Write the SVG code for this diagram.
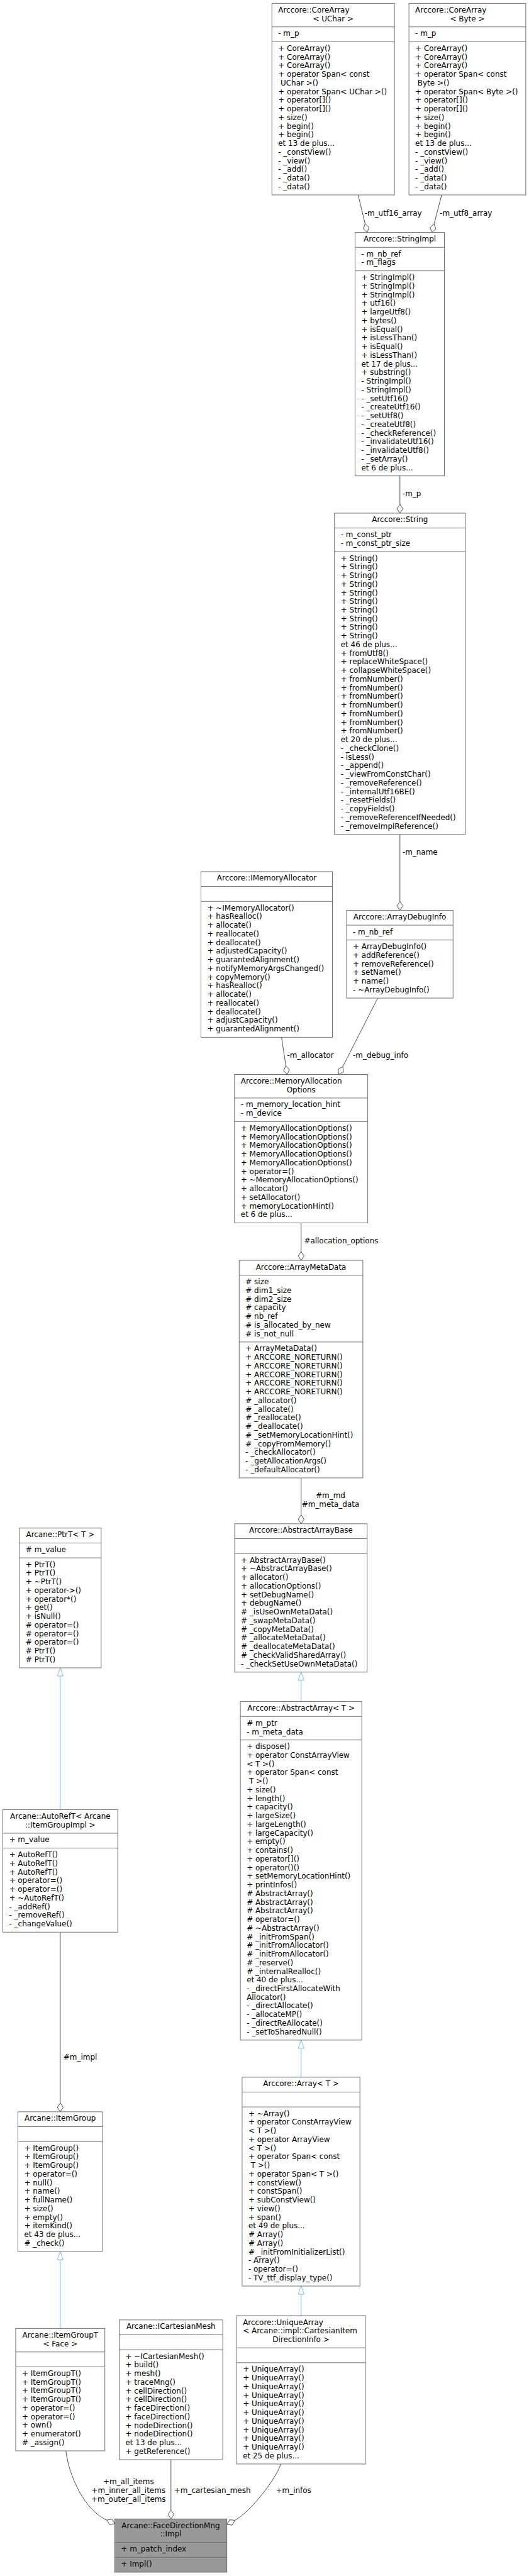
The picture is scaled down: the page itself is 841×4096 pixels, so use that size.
<svg xmlns="http://www.w3.org/2000/svg" width="841" height="4096" viewBox="0 0 841 4096">
<style>
text{font-family:"DejaVu Sans","Liberation Sans",sans-serif;font-size:12.8px;fill:#000}
.m{text-anchor:middle}
.b{fill:#fff;stroke:#666;stroke-width:1}
.r{fill:#999;stroke:#666;stroke-width:1}
.s{stroke:#666;stroke-width:1}
.e{fill:none;stroke:#404040;stroke-width:1}
.d{fill:#fff;stroke:#404040;stroke-width:1}
.i{fill:none;stroke:#63b8ff;stroke-width:1}
.t{fill:#fff;stroke:#63b8ff;stroke-width:1}
</style>
<rect width="841" height="4096" fill="#fff"/>
<g transform="scale(0.935)">

<g id="connectors">
<path class="e" d="M609,331.5 L620.8,380.7"/>
<polygon class="d" points="624.3,395.3 627.4,386.8 620.8,380.7 617.7,389.2"/>
<text x="620" y="367">-m_utf16_array</text>
<path class="e" d="M751,331.5 L738.1,380.8"/>
<polygon class="d" points="734.3,395.3 741,389.3 738.1,380.8 731.4,386.8"/>
<text x="747.7" y="367">-m_utf8_array</text>
<path class="e" d="M680,809.3 V857.7"/>
<polygon class="d" points="680,872.7 685,865.2 680,857.7 675,865.2"/>
<text x="684.3" y="844">-m_p</text>
<path class="e" d="M680,1419 V1533"/>
<polygon class="d" points="680,1548 685,1540.5 680,1533 675,1540.5"/>
<text x="684.3" y="1453">-m_name</text>
<path class="e" d="M478.7,1764 L486.05,1812.5"/>
<polygon class="d" points="488.3,1827.3 492.1,1819.1 486.05,1812.5 482.2,1820.6"/>
<text x="488.3" y="1799">-m_allocator</text>
<path class="e" d="M642.3,1697.4 L582.8,1813.9"/>
<polygon class="d" points="576,1827.3 583.9,1822.9 582.8,1813.9 574.95,1818.3"/>
<text x="600" y="1799">-m_debug_info</text>
<path class="e" d="M512,2079.6 V2128.4"/>
<polygon class="d" points="512,2143.4 517,2135.9 512,2128.4 507,2135.9"/>
<text x="517" y="2114.5">#allocation_options</text>
<path class="e" d="M512,2513.3 V2576.3"/>
<polygon class="d" points="512,2591.3 517,2583.8 512,2576.3 507,2583.8"/>
<text class="m" x="562" y="2547.5">#m_md</text>
<text class="m" x="562" y="2562.2">#m_meta_data</text>
<path class="i" d="M512,2893.7 V2857.6"/>
<polygon class="t" points="512,2843.6 517,2857.6 507,2857.6"/>
<path class="i" d="M512,3532.5 V3483.4"/>
<polygon class="t" points="512,3469.4 517,3483.4 507,3483.4"/>
<path class="i" d="M512,3938 V3901.7"/>
<polygon class="t" points="512,3887.7 517,3901.7 507,3901.7"/>
<path class="i" d="M102.5,3077.6 V2850.3"/>
<polygon class="t" points="102.5,2836.3 107.5,2850.3 97.5,2850.3"/>
<path class="e" d="M102.5,3285.8 V3576.3"/>
<polygon class="d" points="102.5,3591.3 107.5,3583.8 102.5,3576.3 97.5,3583.8"/>
<text x="107.8" y="3503">#m_impl</text>
<path class="i" d="M102.5,3959.7 V3842.9"/>
<polygon class="t" points="102.5,3828.9 107.5,3842.9 97.5,3842.9"/>
<path class="e" d="M290.7,4182.9 V4268.7"/>
<polygon class="d" points="290.7,4283.7 295.7,4276.2 290.7,4268.7 285.7,4276.2"/>
<text x="296" y="4239.8">+m_cartesian_mesh</text>
<path class="e" d="M112,4167.9 C118,4215 145.7,4269.7 181.7,4285.7"/>
<polygon class="d" points="195,4291.7 186.3,4293.3 181.7,4285.7 190.4,4284.1"/>
<text class="m" x="218.5" y="4224.8">+m_all_items</text>
<text class="m" x="218.5" y="4239.5">+m_inner_all_items</text>
<text class="m" x="218.5" y="4254.2">+m_outer_all_items</text>
<path class="e" d="M477.3,4190.3 C470,4215 425.8,4271.6 399.5,4286"/>
<polygon class="d" points="385.7,4293.3 394.9,4294.1 399.5,4286 390.3,4285.2"/>
<text x="469" y="4239.8">+m_infos</text>
</g>

<g id="coreArrayUChar">
<rect class="b" x="462.3" y="5.7" width="208.4" height="325.8"/>
<line class="s" x1="462.3" y1="45.7" x2="670.7" y2="45.7"/>
<line class="s" x1="462.3" y1="71" x2="670.7" y2="71"/>
<text x="473" y="21.8">Arccore::CoreArray</text>
<text class="m" x="566.5" y="36.5">&lt; UChar &gt;</text>
<text x="473" y="61.2">- m_p</text>
<text x="473" y="86.5"><tspan x="473">+ CoreArray()</tspan><tspan x="473" dy="14.7">+ CoreArray()</tspan><tspan x="473" dy="14.7">+ CoreArray()</tspan><tspan x="473" dy="14.7">+ operator Span&lt; const</tspan><tspan x="477" dy="14.7">UChar &gt;()</tspan><tspan x="473" dy="14.7">+ operator Span&lt; UChar &gt;()</tspan><tspan x="473" dy="14.7">+ operator[]()</tspan><tspan x="473" dy="14.7">+ operator[]()</tspan><tspan x="473" dy="14.7">+ size()</tspan><tspan x="473" dy="14.7">+ begin()</tspan><tspan x="473" dy="14.7">+ begin()</tspan><tspan x="473" dy="14.7">et 13 de plus...</tspan><tspan x="473" dy="14.7">- _constView()</tspan><tspan x="473" dy="14.7">- _view()</tspan><tspan x="473" dy="14.7">- _add()</tspan><tspan x="473" dy="14.7">- _data()</tspan><tspan x="473" dy="14.7">- _data()</tspan></text>
</g>

<g id="coreArrayByte">
<rect class="b" x="695.3" y="5.7" width="198.7" height="325.8"/>
<line class="s" x1="695.3" y1="45.7" x2="894" y2="45.7"/>
<line class="s" x1="695.3" y1="71" x2="894" y2="71"/>
<text x="706" y="21.8">Arccore::CoreArray</text>
<text class="m" x="794.6" y="36.5">&lt; Byte &gt;</text>
<text x="706" y="61.2">- m_p</text>
<text x="706" y="86.5"><tspan x="706">+ CoreArray()</tspan><tspan x="706" dy="14.7">+ CoreArray()</tspan><tspan x="706" dy="14.7">+ CoreArray()</tspan><tspan x="706" dy="14.7">+ operator Span&lt; const</tspan><tspan x="710" dy="14.7">Byte &gt;()</tspan><tspan x="706" dy="14.7">+ operator Span&lt; Byte &gt;()</tspan><tspan x="706" dy="14.7">+ operator[]()</tspan><tspan x="706" dy="14.7">+ operator[]()</tspan><tspan x="706" dy="14.7">+ size()</tspan><tspan x="706" dy="14.7">+ begin()</tspan><tspan x="706" dy="14.7">+ begin()</tspan><tspan x="706" dy="14.7">et 13 de plus...</tspan><tspan x="706" dy="14.7">- _constView()</tspan><tspan x="706" dy="14.7">- _view()</tspan><tspan x="706" dy="14.7">- _add()</tspan><tspan x="706" dy="14.7">- _data()</tspan><tspan x="706" dy="14.7">- _data()</tspan></text>
</g>

<g id="stringImpl">
<rect class="b" x="603.7" y="395.3" width="152" height="414"/>
<line class="s" x1="603.7" y1="420.6" x2="755.7" y2="420.6"/>
<line class="s" x1="603.7" y1="460.6" x2="755.7" y2="460.6"/>
<text class="m" x="679.7" y="410.8">Arccore::StringImpl</text>
<text x="614.4" y="436.1"><tspan x="614.4">- m_nb_ref</tspan><tspan x="614.4" dy="14.7">- m_flags</tspan></text>
<text x="614.4" y="476.1"><tspan x="614.4">+ StringImpl()</tspan><tspan x="614.4" dy="14.7">+ StringImpl()</tspan><tspan x="614.4" dy="14.7">+ StringImpl()</tspan><tspan x="614.4" dy="14.7">+ utf16()</tspan><tspan x="614.4" dy="14.7">+ largeUtf8()</tspan><tspan x="614.4" dy="14.7">+ bytes()</tspan><tspan x="614.4" dy="14.7">+ isEqual()</tspan><tspan x="614.4" dy="14.7">+ isLessThan()</tspan><tspan x="614.4" dy="14.7">+ isEqual()</tspan><tspan x="614.4" dy="14.7">+ isLessThan()</tspan><tspan x="614.4" dy="14.7">et 17 de plus...</tspan><tspan x="614.4" dy="14.7">+ substring()</tspan><tspan x="614.4" dy="14.7">- StringImpl()</tspan><tspan x="614.4" dy="14.7">- StringImpl()</tspan><tspan x="614.4" dy="14.7">- _setUtf16()</tspan><tspan x="614.4" dy="14.7">- _createUtf16()</tspan><tspan x="614.4" dy="14.7">- _setUtf8()</tspan><tspan x="614.4" dy="14.7">- _createUtf8()</tspan><tspan x="614.4" dy="14.7">- _checkReference()</tspan><tspan x="614.4" dy="14.7">- _invalidateUtf16()</tspan><tspan x="614.4" dy="14.7">- _invalidateUtf8()</tspan><tspan x="614.4" dy="14.7">- _setArray()</tspan><tspan x="614.4" dy="14.7">et 6 de plus...</tspan></text>
</g>

<g id="string">
<rect class="b" x="568.7" y="872.7" width="222.6" height="546.3"/>
<line class="s" x1="568.7" y1="898" x2="791.3" y2="898"/>
<line class="s" x1="568.7" y1="938" x2="791.3" y2="938"/>
<text class="m" x="680" y="888.2">Arccore::String</text>
<text x="579.4" y="913.5"><tspan x="579.4">- m_const_ptr</tspan><tspan x="579.4" dy="14.7">- m_const_ptr_size</tspan></text>
<text x="579.4" y="953.5"><tspan x="579.4">+ String()</tspan><tspan x="579.4" dy="14.7">+ String()</tspan><tspan x="579.4" dy="14.7">+ String()</tspan><tspan x="579.4" dy="14.7">+ String()</tspan><tspan x="579.4" dy="14.7">+ String()</tspan><tspan x="579.4" dy="14.7">+ String()</tspan><tspan x="579.4" dy="14.7">+ String()</tspan><tspan x="579.4" dy="14.7">+ String()</tspan><tspan x="579.4" dy="14.7">+ String()</tspan><tspan x="579.4" dy="14.7">+ String()</tspan><tspan x="579.4" dy="14.7">et 46 de plus...</tspan><tspan x="579.4" dy="14.7">+ fromUtf8()</tspan><tspan x="579.4" dy="14.7">+ replaceWhiteSpace()</tspan><tspan x="579.4" dy="14.7">+ collapseWhiteSpace()</tspan><tspan x="579.4" dy="14.7">+ fromNumber()</tspan><tspan x="579.4" dy="14.7">+ fromNumber()</tspan><tspan x="579.4" dy="14.7">+ fromNumber()</tspan><tspan x="579.4" dy="14.7">+ fromNumber()</tspan><tspan x="579.4" dy="14.7">+ fromNumber()</tspan><tspan x="579.4" dy="14.7">+ fromNumber()</tspan><tspan x="579.4" dy="14.7">+ fromNumber()</tspan><tspan x="579.4" dy="14.7">et 20 de plus...</tspan><tspan x="579.4" dy="14.7">- _checkClone()</tspan><tspan x="579.4" dy="14.7">- isLess()</tspan><tspan x="579.4" dy="14.7">- _append()</tspan><tspan x="579.4" dy="14.7">- _viewFromConstChar()</tspan><tspan x="579.4" dy="14.7">- _removeReference()</tspan><tspan x="579.4" dy="14.7">- _internalUtf16BE()</tspan><tspan x="579.4" dy="14.7">- _resetFields()</tspan><tspan x="579.4" dy="14.7">- _copyFields()</tspan><tspan x="579.4" dy="14.7">- _removeReferenceIfNeeded()</tspan><tspan x="579.4" dy="14.7">- _removeImplReference()</tspan></text>
</g>

<g id="arrayDebugInfo">
<rect class="b" x="589.3" y="1548" width="181" height="149.4"/>
<line class="s" x1="589.3" y1="1573.3" x2="770.3" y2="1573.3"/>
<line class="s" x1="589.3" y1="1598.6" x2="770.3" y2="1598.6"/>
<text class="m" x="679.8" y="1563.5">Arccore::ArrayDebugInfo</text>
<text x="600" y="1588.8">- m_nb_ref</text>
<text x="600" y="1614.1"><tspan x="600">+ ArrayDebugInfo()</tspan><tspan x="600" dy="14.7">+ addReference()</tspan><tspan x="600" dy="14.7">+ removeReference()</tspan><tspan x="600" dy="14.7">+ setName()</tspan><tspan x="600" dy="14.7">+ name()</tspan><tspan x="600" dy="14.7">- ~ArrayDebugInfo()</tspan></text>
</g>

<g id="iMemoryAllocator">
<rect class="b" x="341.7" y="1482.3" width="223.6" height="281.7"/>
<line class="s" x1="341.7" y1="1507.6" x2="565.3" y2="1507.6"/>
<line class="s" x1="341.7" y1="1532.9" x2="565.3" y2="1532.9"/>
<text class="m" x="453.5" y="1497.8">Arccore::IMemoryAllocator</text>
<text x="352.4" y="1548.4"><tspan x="352.4">+ ~IMemoryAllocator()</tspan><tspan x="352.4" dy="14.7">+ hasRealloc()</tspan><tspan x="352.4" dy="14.7">+ allocate()</tspan><tspan x="352.4" dy="14.7">+ reallocate()</tspan><tspan x="352.4" dy="14.7">+ deallocate()</tspan><tspan x="352.4" dy="14.7">+ adjustedCapacity()</tspan><tspan x="352.4" dy="14.7">+ guarantedAlignment()</tspan><tspan x="352.4" dy="14.7">+ notifyMemoryArgsChanged()</tspan><tspan x="352.4" dy="14.7">+ copyMemory()</tspan><tspan x="352.4" dy="14.7">+ hasRealloc()</tspan><tspan x="352.4" dy="14.7">+ allocate()</tspan><tspan x="352.4" dy="14.7">+ reallocate()</tspan><tspan x="352.4" dy="14.7">+ deallocate()</tspan><tspan x="352.4" dy="14.7">+ adjustCapacity()</tspan><tspan x="352.4" dy="14.7">+ guarantedAlignment()</tspan></text>
</g>

<g id="memoryAllocationOptions">
<rect class="b" x="398.7" y="1827.3" width="226.6" height="252.3"/>
<line class="s" x1="398.7" y1="1867.3" x2="625.3" y2="1867.3"/>
<line class="s" x1="398.7" y1="1907.3" x2="625.3" y2="1907.3"/>
<text x="409.4" y="1842.8">Arccore::MemoryAllocation</text>
<text class="m" x="512" y="1857.5">Options</text>
<text x="409.4" y="1882.8"><tspan x="409.4">- m_memory_location_hint</tspan><tspan x="409.4" dy="14.7">- m_device</tspan></text>
<text x="409.4" y="1922.8"><tspan x="409.4">+ MemoryAllocationOptions()</tspan><tspan x="409.4" dy="14.7">+ MemoryAllocationOptions()</tspan><tspan x="409.4" dy="14.7">+ MemoryAllocationOptions()</tspan><tspan x="409.4" dy="14.7">+ MemoryAllocationOptions()</tspan><tspan x="409.4" dy="14.7">+ MemoryAllocationOptions()</tspan><tspan x="409.4" dy="14.7">+ operator=()</tspan><tspan x="409.4" dy="14.7">+ ~MemoryAllocationOptions()</tspan><tspan x="409.4" dy="14.7">+ allocator()</tspan><tspan x="409.4" dy="14.7">+ setAllocator()</tspan><tspan x="409.4" dy="14.7">+ memoryLocationHint()</tspan><tspan x="409.4" dy="14.7">et 6 de plus...</tspan></text>
</g>

<g id="arrayMetaData">
<rect class="b" x="406.7" y="2143.4" width="210.3" height="369.9"/>
<line class="s" x1="406.7" y1="2168.7" x2="617" y2="2168.7"/>
<line class="s" x1="406.7" y1="2282.2" x2="617" y2="2282.2"/>
<text class="m" x="511.85" y="2158.9">Arccore::ArrayMetaData</text>
<text x="417.4" y="2184.2"><tspan x="417.4"># size</tspan><tspan x="417.4" dy="14.7"># dim1_size</tspan><tspan x="417.4" dy="14.7"># dim2_size</tspan><tspan x="417.4" dy="14.7"># capacity</tspan><tspan x="417.4" dy="14.7"># nb_ref</tspan><tspan x="417.4" dy="14.7"># is_allocated_by_new</tspan><tspan x="417.4" dy="14.7"># is_not_null</tspan></text>
<text x="417.4" y="2297.7"><tspan x="417.4">+ ArrayMetaData()</tspan><tspan x="417.4" dy="14.7">+ ARCCORE_NORETURN()</tspan><tspan x="417.4" dy="14.7">+ ARCCORE_NORETURN()</tspan><tspan x="417.4" dy="14.7">+ ARCCORE_NORETURN()</tspan><tspan x="417.4" dy="14.7">+ ARCCORE_NORETURN()</tspan><tspan x="417.4" dy="14.7">+ ARCCORE_NORETURN()</tspan><tspan x="417.4" dy="14.7"># _allocator()</tspan><tspan x="417.4" dy="14.7"># _allocate()</tspan><tspan x="417.4" dy="14.7"># _reallocate()</tspan><tspan x="417.4" dy="14.7"># _deallocate()</tspan><tspan x="417.4" dy="14.7"># _setMemoryLocationHint()</tspan><tspan x="417.4" dy="14.7"># _copyFromMemory()</tspan><tspan x="417.4" dy="14.7">- _checkAllocator()</tspan><tspan x="417.4" dy="14.7">- _getAllocationArgs()</tspan><tspan x="417.4" dy="14.7">- _defaultAllocator()</tspan></text>
</g>

<g id="abstractArrayBase">
<rect class="b" x="399" y="2591.3" width="225.3" height="252.3"/>
<line class="s" x1="399" y1="2616.6" x2="624.3" y2="2616.6"/>
<line class="s" x1="399" y1="2641.9" x2="624.3" y2="2641.9"/>
<text class="m" x="511.65" y="2606.8">Arccore::AbstractArrayBase</text>
<text x="409.7" y="2657.4"><tspan x="409.7">+ AbstractArrayBase()</tspan><tspan x="409.7" dy="14.7">+ ~AbstractArrayBase()</tspan><tspan x="409.7" dy="14.7">+ allocator()</tspan><tspan x="409.7" dy="14.7">+ allocationOptions()</tspan><tspan x="409.7" dy="14.7">+ setDebugName()</tspan><tspan x="409.7" dy="14.7">+ debugName()</tspan><tspan x="409.7" dy="14.7"># _isUseOwnMetaData()</tspan><tspan x="409.7" dy="14.7"># _swapMetaData()</tspan><tspan x="409.7" dy="14.7"># _copyMetaData()</tspan><tspan x="409.7" dy="14.7"># _allocateMetaData()</tspan><tspan x="409.7" dy="14.7"># _deallocateMetaData()</tspan><tspan x="409.7" dy="14.7"># _checkValidSharedArray()</tspan><tspan x="409.7" dy="14.7">- _checkSetUseOwnMetaData()</tspan></text>
</g>

<g id="abstractArray">
<rect class="b" x="408.7" y="2893.7" width="206.4" height="575.7"/>
<line class="s" x1="408.7" y1="2919" x2="615.1" y2="2919"/>
<line class="s" x1="408.7" y1="2959" x2="615.1" y2="2959"/>
<text class="m" x="511.9" y="2909.2">Arccore::AbstractArray&lt; T &gt;</text>
<text x="419.4" y="2934.5"><tspan x="419.4"># m_ptr</tspan><tspan x="419.4" dy="14.7">- m_meta_data</tspan></text>
<text x="419.4" y="2974.5"><tspan x="419.4">+ dispose()</tspan><tspan x="419.4" dy="14.7">+ operator ConstArrayView</tspan><tspan x="419.4" dy="14.7">&lt; T &gt;()</tspan><tspan x="419.4" dy="14.7">+ operator Span&lt; const</tspan><tspan x="423.4" dy="14.7">T &gt;()</tspan><tspan x="419.4" dy="14.7">+ size()</tspan><tspan x="419.4" dy="14.7">+ length()</tspan><tspan x="419.4" dy="14.7">+ capacity()</tspan><tspan x="419.4" dy="14.7">+ largeSize()</tspan><tspan x="419.4" dy="14.7">+ largeLength()</tspan><tspan x="419.4" dy="14.7">+ largeCapacity()</tspan><tspan x="419.4" dy="14.7">+ empty()</tspan><tspan x="419.4" dy="14.7">+ contains()</tspan><tspan x="419.4" dy="14.7">+ operator[]()</tspan><tspan x="419.4" dy="14.7">+ operator()()</tspan><tspan x="419.4" dy="14.7">+ setMemoryLocationHint()</tspan><tspan x="419.4" dy="14.7">+ printInfos()</tspan><tspan x="419.4" dy="14.7"># AbstractArray()</tspan><tspan x="419.4" dy="14.7"># AbstractArray()</tspan><tspan x="419.4" dy="14.7"># AbstractArray()</tspan><tspan x="419.4" dy="14.7"># operator=()</tspan><tspan x="419.4" dy="14.7"># ~AbstractArray()</tspan><tspan x="419.4" dy="14.7"># _initFromSpan()</tspan><tspan x="419.4" dy="14.7"># _initFromAllocator()</tspan><tspan x="419.4" dy="14.7"># _initFromAllocator()</tspan><tspan x="419.4" dy="14.7"># _reserve()</tspan><tspan x="419.4" dy="14.7"># _internalRealloc()</tspan><tspan x="419.4" dy="14.7">et 40 de plus...</tspan><tspan x="419.4" dy="14.7">- _directFirstAllocateWith</tspan><tspan x="419.4" dy="14.7">Allocator()</tspan><tspan x="419.4" dy="14.7">- _directAllocate()</tspan><tspan x="419.4" dy="14.7">- _allocateMP()</tspan><tspan x="419.4" dy="14.7">- _directReAllocate()</tspan><tspan x="419.4" dy="14.7">- _setToSharedNull()</tspan></text>
</g>

<g id="array">
<rect class="b" x="411.7" y="3532.5" width="200.3" height="355.2"/>
<line class="s" x1="411.7" y1="3557.8" x2="612" y2="3557.8"/>
<line class="s" x1="411.7" y1="3583.1" x2="612" y2="3583.1"/>
<text class="m" x="511.85" y="3548">Arccore::Array&lt; T &gt;</text>
<text x="422.4" y="3598.6"><tspan x="422.4">+ ~Array()</tspan><tspan x="422.4" dy="14.7">+ operator ConstArrayView</tspan><tspan x="422.4" dy="14.7">&lt; T &gt;()</tspan><tspan x="422.4" dy="14.7">+ operator ArrayView</tspan><tspan x="422.4" dy="14.7">&lt; T &gt;()</tspan><tspan x="422.4" dy="14.7">+ operator Span&lt; const</tspan><tspan x="426.4" dy="14.7">T &gt;()</tspan><tspan x="422.4" dy="14.7">+ operator Span&lt; T &gt;()</tspan><tspan x="422.4" dy="14.7">+ constView()</tspan><tspan x="422.4" dy="14.7">+ constSpan()</tspan><tspan x="422.4" dy="14.7">+ subConstView()</tspan><tspan x="422.4" dy="14.7">+ view()</tspan><tspan x="422.4" dy="14.7">+ span()</tspan><tspan x="422.4" dy="14.7">et 49 de plus...</tspan><tspan x="422.4" dy="14.7"># Array()</tspan><tspan x="422.4" dy="14.7"># Array()</tspan><tspan x="422.4" dy="14.7"># _initFromInitializerList()</tspan><tspan x="422.4" dy="14.7">- Array()</tspan><tspan x="422.4" dy="14.7">- operator=()</tspan><tspan x="422.4" dy="14.7">- TV_ttf_display_type()</tspan></text>
</g>

<g id="uniqueArray">
<rect class="b" x="402.3" y="3938" width="219" height="252.3"/>
<line class="s" x1="402.3" y1="3992.7" x2="621.3" y2="3992.7"/>
<line class="s" x1="402.3" y1="4018" x2="621.3" y2="4018"/>
<text x="413" y="3953.5"><tspan x="413">Arccore::UniqueArray</tspan><tspan x="413" dy="14.7">&lt; Arcane::impl::CartesianItem</tspan></text>
<text class="m" x="511.8" y="3982.9">DirectionInfo &gt;</text>
<text x="413" y="4033.5"><tspan x="413">+ UniqueArray()</tspan><tspan x="413" dy="14.7">+ UniqueArray()</tspan><tspan x="413" dy="14.7">+ UniqueArray()</tspan><tspan x="413" dy="14.7">+ UniqueArray()</tspan><tspan x="413" dy="14.7">+ UniqueArray()</tspan><tspan x="413" dy="14.7">+ UniqueArray()</tspan><tspan x="413" dy="14.7">+ UniqueArray()</tspan><tspan x="413" dy="14.7">+ UniqueArray()</tspan><tspan x="413" dy="14.7">+ UniqueArray()</tspan><tspan x="413" dy="14.7">+ UniqueArray()</tspan><tspan x="413" dy="14.7">et 25 de plus...</tspan></text>
</g>

<g id="iCartesianMesh">
<rect class="b" x="202.7" y="3945.3" width="176" height="237.6"/>
<line class="s" x1="202.7" y1="3970.6" x2="378.7" y2="3970.6"/>
<line class="s" x1="202.7" y1="3995.9" x2="378.7" y2="3995.9"/>
<text class="m" x="290.7" y="3960.8">Arcane::ICartesianMesh</text>
<text x="213.4" y="4011.4"><tspan x="213.4">+ ~ICartesianMesh()</tspan><tspan x="213.4" dy="14.7">+ build()</tspan><tspan x="213.4" dy="14.7">+ mesh()</tspan><tspan x="213.4" dy="14.7">+ traceMng()</tspan><tspan x="213.4" dy="14.7">+ cellDirection()</tspan><tspan x="213.4" dy="14.7">+ cellDirection()</tspan><tspan x="213.4" dy="14.7">+ faceDirection()</tspan><tspan x="213.4" dy="14.7">+ faceDirection()</tspan><tspan x="213.4" dy="14.7">+ nodeDirection()</tspan><tspan x="213.4" dy="14.7">+ nodeDirection()</tspan><tspan x="213.4" dy="14.7">et 13 de plus...</tspan><tspan x="213.4" dy="14.7">+ getReference()</tspan></text>
</g>

<g id="itemGroupTFace">
<rect class="b" x="26.7" y="3959.7" width="151.6" height="208.2"/>
<line class="s" x1="26.7" y1="3999.7" x2="178.3" y2="3999.7"/>
<line class="s" x1="26.7" y1="4025" x2="178.3" y2="4025"/>
<text class="m" x="102.5" y="3975.2">Arcane::ItemGroupT</text>
<text class="m" x="102.5" y="3989.9">&lt; Face &gt;</text>
<text x="37.4" y="4040.5"><tspan x="37.4">+ ItemGroupT()</tspan><tspan x="37.4" dy="14.7">+ ItemGroupT()</tspan><tspan x="37.4" dy="14.7">+ ItemGroupT()</tspan><tspan x="37.4" dy="14.7">+ ItemGroupT()</tspan><tspan x="37.4" dy="14.7">+ operator=()</tspan><tspan x="37.4" dy="14.7">+ operator=()</tspan><tspan x="37.4" dy="14.7">+ own()</tspan><tspan x="37.4" dy="14.7">+ enumerator()</tspan><tspan x="37.4" dy="14.7"># _assign()</tspan></text>
</g>

<g id="faceDirectionMngImpl">
<rect class="r" x="195" y="4283.7" width="190.7" height="90.6"/>
<line class="s" x1="195" y1="4323.7" x2="385.7" y2="4323.7"/>
<line class="s" x1="195" y1="4349" x2="385.7" y2="4349"/>
<text class="m" x="290.35" y="4299.2">Arcane::FaceDirectionMng</text>
<text class="m" x="290.35" y="4313.9">::Impl</text>
<text x="205.7" y="4339.2">+ m_patch_index</text>
<text x="205.7" y="4364.5">+ Impl()</text>
</g>

<g id="itemGroup">
<rect class="b" x="30.4" y="3591.3" width="143.9" height="237.6"/>
<line class="s" x1="30.4" y1="3616.6" x2="174.3" y2="3616.6"/>
<line class="s" x1="30.4" y1="3641.9" x2="174.3" y2="3641.9"/>
<text class="m" x="102.35" y="3606.8">Arcane::ItemGroup</text>
<text x="41.1" y="3657.4"><tspan x="41.1">+ ItemGroup()</tspan><tspan x="41.1" dy="14.7">+ ItemGroup()</tspan><tspan x="41.1" dy="14.7">+ ItemGroup()</tspan><tspan x="41.1" dy="14.7">+ operator=()</tspan><tspan x="41.1" dy="14.7">+ null()</tspan><tspan x="41.1" dy="14.7">+ name()</tspan><tspan x="41.1" dy="14.7">+ fullName()</tspan><tspan x="41.1" dy="14.7">+ size()</tspan><tspan x="41.1" dy="14.7">+ empty()</tspan><tspan x="41.1" dy="14.7">+ itemKind()</tspan><tspan x="41.1" dy="14.7">et 43 de plus...</tspan><tspan x="41.1" dy="14.7"># _check()</tspan></text>
</g>

<g id="autoRefT">
<rect class="b" x="4.8" y="3077.6" width="195.4" height="208.2"/>
<line class="s" x1="4.8" y1="3117.6" x2="200.2" y2="3117.6"/>
<line class="s" x1="4.8" y1="3142.9" x2="200.2" y2="3142.9"/>
<text class="m" x="102.5" y="3093.1">Arcane::AutoRefT&lt; Arcane</text>
<text class="m" x="102.5" y="3107.8">::ItemGroupImpl &gt;</text>
<text x="15.5" y="3133.1">+ m_value</text>
<text x="15.5" y="3158.4"><tspan x="15.5">+ AutoRefT()</tspan><tspan x="15.5" dy="14.7">+ AutoRefT()</tspan><tspan x="15.5" dy="14.7">+ AutoRefT()</tspan><tspan x="15.5" dy="14.7">+ operator=()</tspan><tspan x="15.5" dy="14.7">+ operator=()</tspan><tspan x="15.5" dy="14.7">+ ~AutoRefT()</tspan><tspan x="15.5" dy="14.7">- _addRef()</tspan><tspan x="15.5" dy="14.7">- _removeRef()</tspan><tspan x="15.5" dy="14.7">- _changeValue()</tspan></text>
</g>

<g id="ptrT">
<rect class="b" x="33" y="2598.7" width="139" height="237.6"/>
<line class="s" x1="33" y1="2624" x2="172" y2="2624"/>
<line class="s" x1="33" y1="2649.3" x2="172" y2="2649.3"/>
<text class="m" x="102.5" y="2614.2">Arcane::PtrT&lt; T &gt;</text>
<text x="43.7" y="2639.5"># m_value</text>
<text x="43.7" y="2664.8"><tspan x="43.7">+ PtrT()</tspan><tspan x="43.7" dy="14.7">+ PtrT()</tspan><tspan x="43.7" dy="14.7">+ ~PtrT()</tspan><tspan x="43.7" dy="14.7">+ operator-&gt;()</tspan><tspan x="43.7" dy="14.7">+ operator*()</tspan><tspan x="43.7" dy="14.7">+ get()</tspan><tspan x="43.7" dy="14.7">+ isNull()</tspan><tspan x="43.7" dy="14.7"># operator=()</tspan><tspan x="43.7" dy="14.7"># operator=()</tspan><tspan x="43.7" dy="14.7"># operator=()</tspan><tspan x="43.7" dy="14.7"># PtrT()</tspan><tspan x="43.7" dy="14.7"># PtrT()</tspan></text>
</g>

</g>
</svg>
